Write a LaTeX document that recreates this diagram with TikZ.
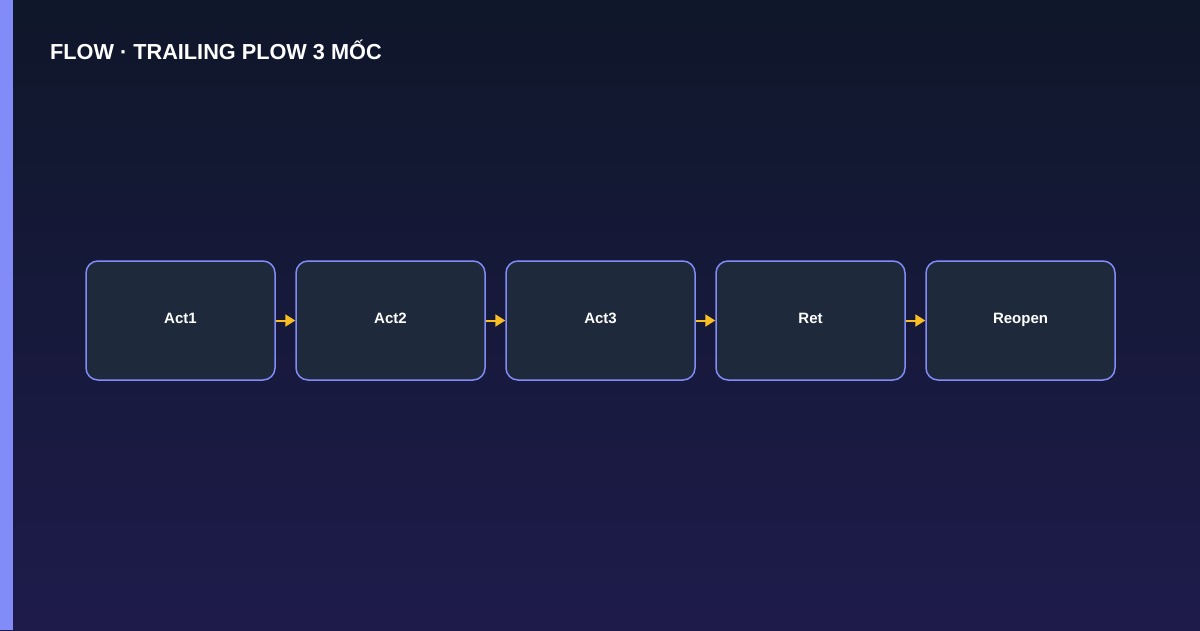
\documentclass[tikz,border=0pt]{standalone}
\usepackage{fontspec}
\setmainfont{Liberation Sans}
\usetikzlibrary{positioning,shapes,arrows.meta}

\definecolor{bgtop}{HTML}{0F172A}
\definecolor{bgbot}{HTML}{1E1B4B}
\definecolor{boxfill}{HTML}{1E293B}
\definecolor{boxline}{HTML}{818CF8}
\definecolor{arrowcol}{HTML}{FBBF24}

\begin{document}
\begin{tikzpicture}[x=1pt, y=-1pt, node distance=19.5pt,
    stage/.style={draw=boxline, line width=1.5pt, fill=boxfill, rounded corners=12pt,
      minimum width=189pt, minimum height=119pt, inner sep=0pt,
      text height=10.7pt, text depth=4pt,
      text=white, font=\bfseries\fontsize{15}{18}\selectfont},
    flow/.style={draw=arrowcol, line width=2pt, -{Triangle[length=10pt,width=12pt]}}]

  % background and side bar
  \shade[top color=bgtop, bottom color=bgbot] (0,0) rectangle (1200,630);
  \fill[boxline] (0,0) rectangle (13,630);
  \useasboundingbox (0,0) rectangle (1200,630);

  % title
  \node (title) [anchor=base west, inner sep=0pt, text=white, font=\bfseries\fontsize{21.7}{26}\selectfont] at (50,59.5) {FLOW · TRAILING PLOW 3 MỐC};

  % stages of the flow
  \node (act1) [stage] at (180.5,320.5) {Act1};
  \node (act2) [stage, right=of act1] {Act2};
  \node (act3) [stage, right=of act2] {Act3};
  \node (ret) [stage, right=of act3] {Ret};
  \node (reopen) [stage, right=of ret] {Reopen};

  % arrows between stages
  \draw[flow] (act1.east) -- (act2.west);
  \draw[flow] (act2.east) -- (act3.west);
  \draw[flow] (act3.east) -- (ret.west);
  \draw[flow] (ret.east) -- (reopen.west);

\end{tikzpicture}
\end{document}
